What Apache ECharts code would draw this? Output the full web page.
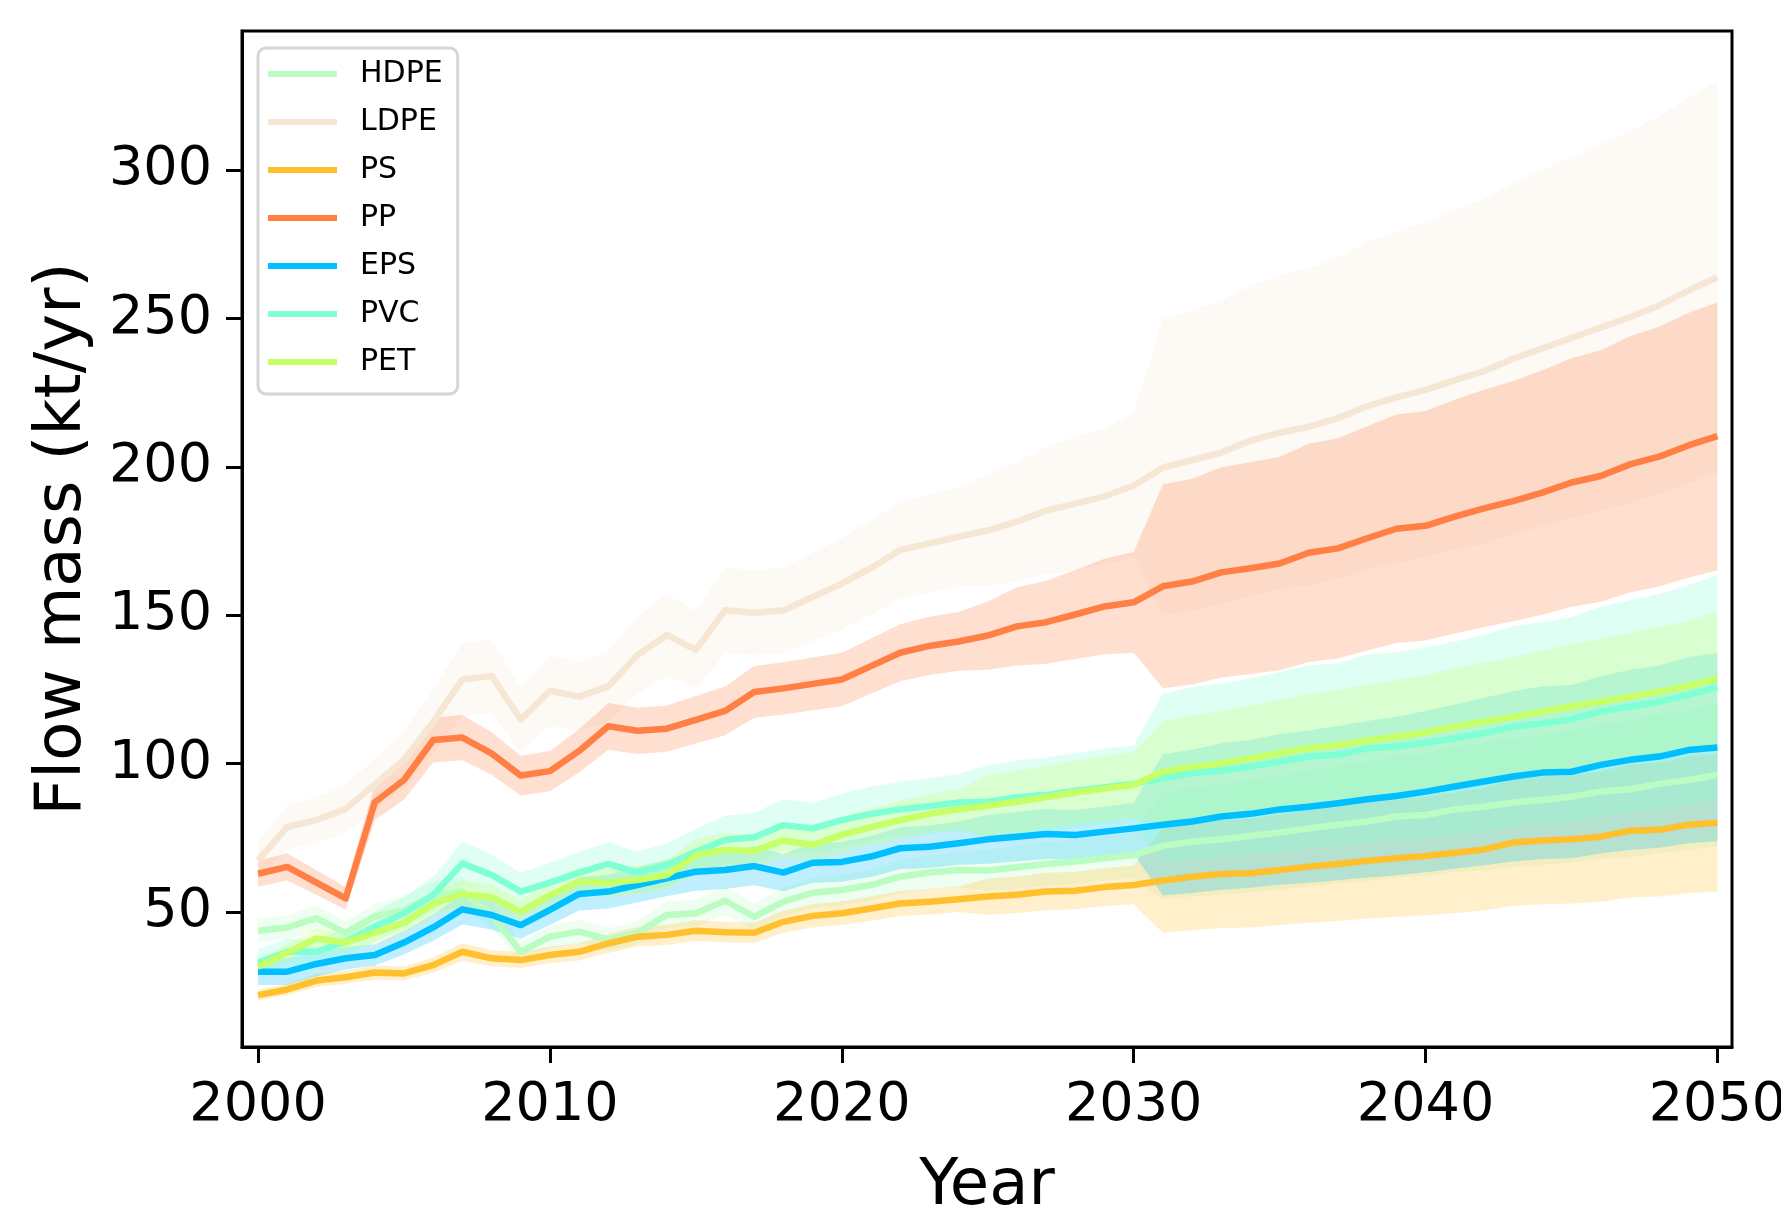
<!DOCTYPE html>
<html>
<head>
<meta charset="utf-8">
<script src="https://cdn.jsdelivr.net/npm/echarts@6/dist/echarts.min.js"></script>
<style>
  html, body { margin: 0; padding: 0; background: #ffffff; }
  #chart { width: 1781px; height: 1215px; }
</style>
</head>
<body>
<div id="chart"></div>
<script>
// Years of the flow projection
const YEARS = [2000, 2001, 2002, 2003, 2004, 2005, 2006, 2007, 2008, 2009,
  2010, 2011, 2012, 2013, 2014, 2015, 2016, 2017, 2018, 2019,
  2020, 2021, 2022, 2023, 2024, 2025, 2026, 2027, 2028, 2029,
  2030, 2031, 2032, 2033, 2034, 2035, 2036, 2037, 2038, 2039,
  2040, 2041, 2042, 2043, 2044, 2045, 2046, 2047, 2048, 2049, 2050];

const X_TICKS = [2000, 2010, 2020, 2030, 2040, 2050];
const Y_TICKS = [50, 100, 150, 200, 250, 300];

// Flow mass (kt/yr): mean with lower / upper uncertainty bounds
const HDPE_MEAN = [43.7, 44.8, 47.9, 43.0, 48.4, 50.7, 55.4, 56.9, 49.0, 36.6, 41.7, 43.4, 40.8, 43.0, 49.0, 49.6, 53.8, 48.4, 53.5, 56.5, 57.4, 59.1, 61.9, 63.3, 64.2, 64.0, 65.1, 66.2, 67.0, 68.1, 69.2, 72.3, 73.7, 74.5, 75.6, 76.8, 78.2, 79.4, 80.5, 82.2, 82.7, 84.6, 85.5, 86.9, 87.8, 88.9, 90.6, 91.4, 93.2, 94.5, 96.2];
const HDPE_LOW = [39.8, 40.8, 43.6, 39.1, 44.0, 46.1, 50.4, 51.8, 44.6, 33.3, 37.9, 39.5, 37.1, 39.1, 44.6, 45.1, 49.0, 44.0, 48.7, 51.4, 52.2, 53.8, 56.3, 57.6, 58.4, 57.0, 57.9, 58.9, 59.6, 60.6, 61.6, 54.2, 55.3, 55.9, 56.7, 57.6, 58.7, 59.6, 60.4, 61.7, 62.0, 63.5, 64.1, 65.2, 65.9, 66.7, 68.0, 68.6, 69.9, 70.9, 72.2];
const HDPE_HIGH = [47.6, 48.8, 52.2, 46.9, 52.8, 55.3, 60.4, 62.0, 53.4, 39.9, 45.5, 47.3, 44.5, 46.9, 53.4, 54.1, 58.6, 52.8, 58.3, 61.6, 62.6, 64.4, 67.5, 69.0, 70.0, 71.0, 72.3, 73.5, 74.4, 75.6, 76.8, 90.4, 92.1, 93.1, 94.5, 96.0, 97.8, 99.3, 100.6, 102.8, 103.4, 105.8, 106.9, 108.6, 109.8, 111.1, 113.3, 114.3, 116.5, 118.1, 120.3];

const LDPE_MEAN = [67.4, 78.7, 81.0, 84.7, 93.0, 101.3, 114.1, 128.4, 129.6, 114.8, 124.6, 122.6, 126.1, 136.6, 143.4, 138.4, 151.7, 150.9, 151.7, 156.2, 160.7, 166.0, 172.0, 174.3, 176.5, 178.6, 181.6, 185.3, 187.7, 190.1, 193.8, 199.8, 202.3, 204.9, 208.9, 211.6, 213.6, 216.5, 220.5, 223.5, 226.0, 229.3, 232.3, 236.5, 240.0, 243.5, 247.0, 250.5, 254.5, 259.5, 264.0];
const LDPE_LOW = [61.0, 71.2, 73.3, 76.7, 84.2, 91.7, 103.3, 116.2, 117.3, 103.9, 112.8, 111.0, 114.1, 123.6, 129.8, 125.3, 137.3, 136.6, 137.3, 141.4, 145.4, 150.2, 155.7, 157.7, 159.7, 159.8, 161.6, 164.0, 165.2, 167.3, 169.6, 149.9, 151.7, 153.7, 156.7, 158.7, 160.2, 162.4, 165.4, 167.6, 169.5, 172.0, 174.2, 177.4, 180.0, 182.6, 185.3, 187.9, 190.9, 194.6, 198.0];
const LDPE_HIGH = [73.8, 86.2, 88.7, 92.7, 101.8, 110.9, 124.9, 140.6, 141.9, 125.7, 136.4, 134.2, 138.1, 149.6, 157.0, 151.5, 166.1, 165.2, 166.1, 171.0, 176.0, 181.8, 188.3, 190.9, 193.3, 197.4, 201.6, 206.6, 210.2, 212.9, 218.0, 249.8, 252.9, 256.1, 261.1, 264.5, 267.0, 270.6, 275.6, 279.4, 282.5, 286.6, 290.4, 295.6, 300.0, 304.4, 308.8, 313.1, 318.1, 324.4, 330.0];

const PS_MEAN = [22.0, 23.9, 26.9, 28.0, 29.6, 29.3, 32.1, 36.6, 34.4, 33.8, 35.5, 36.6, 39.4, 41.7, 42.3, 43.7, 43.2, 43.0, 46.7, 48.7, 49.6, 51.2, 52.9, 53.5, 54.3, 55.2, 55.8, 56.9, 57.2, 58.4, 59.1, 60.6, 61.9, 62.8, 63.1, 64.2, 65.3, 66.2, 67.3, 68.1, 68.9, 70.0, 71.1, 73.4, 74.1, 74.5, 75.4, 77.4, 77.7, 79.4, 80.1];
const PS_LOW = [20.2, 22.0, 24.7, 25.8, 27.2, 27.0, 29.5, 33.7, 31.6, 31.1, 32.7, 33.7, 36.2, 38.4, 38.9, 40.2, 39.7, 39.6, 43.0, 44.8, 45.6, 47.1, 48.7, 49.2, 50.0, 49.1, 49.7, 50.6, 50.9, 52.0, 52.6, 43.0, 43.9, 44.6, 44.8, 45.6, 46.4, 47.0, 47.8, 48.4, 48.9, 49.7, 50.5, 52.1, 52.6, 52.9, 53.5, 55.0, 55.2, 56.4, 56.9];
const PS_HIGH = [23.8, 25.8, 29.1, 30.2, 32.0, 31.6, 34.7, 39.5, 37.2, 36.5, 38.3, 39.5, 42.6, 45.0, 45.7, 47.2, 46.7, 46.4, 50.4, 52.6, 53.6, 55.3, 57.1, 57.8, 58.6, 61.3, 61.9, 63.2, 63.5, 64.8, 65.6, 78.2, 79.9, 81.0, 81.4, 82.8, 84.2, 85.4, 86.8, 87.8, 88.9, 90.3, 91.7, 94.7, 95.6, 96.1, 97.3, 99.8, 100.2, 102.4, 103.3];

const PP_MEAN = [62.9, 65.2, 59.9, 54.6, 87.0, 94.5, 108.0, 108.8, 103.5, 96.0, 97.5, 104.3, 112.6, 111.1, 111.8, 114.8, 117.8, 124.2, 125.4, 126.9, 128.4, 132.9, 137.4, 139.7, 141.2, 143.2, 146.3, 147.7, 150.3, 153.0, 154.4, 159.8, 161.4, 164.5, 165.9, 167.5, 171.1, 172.6, 176.0, 179.2, 180.2, 183.3, 186.1, 188.5, 191.4, 194.8, 197.0, 200.9, 203.5, 207.3, 210.4];
const PP_LOW = [58.5, 60.6, 55.7, 50.8, 80.9, 87.9, 100.4, 101.2, 96.3, 89.3, 90.7, 97.0, 104.7, 103.3, 104.0, 106.8, 109.6, 115.5, 116.6, 118.0, 119.4, 123.6, 127.8, 129.9, 131.3, 131.7, 133.1, 133.7, 135.3, 136.9, 137.4, 125.4, 126.7, 129.1, 130.2, 131.5, 134.3, 135.5, 138.2, 140.7, 141.5, 143.9, 146.1, 148.0, 150.2, 152.9, 154.6, 157.7, 159.7, 162.7, 165.2];
const PP_HIGH = [67.3, 69.8, 64.1, 58.4, 93.1, 101.1, 115.6, 116.4, 110.7, 102.7, 104.3, 111.6, 120.5, 118.9, 119.6, 122.8, 126.0, 132.9, 134.2, 135.8, 137.4, 142.2, 147.0, 149.5, 151.1, 154.7, 159.5, 161.7, 165.3, 169.1, 171.4, 194.2, 196.1, 199.9, 201.6, 203.5, 207.9, 209.7, 213.8, 217.7, 218.9, 222.7, 226.1, 229.0, 232.6, 236.7, 239.4, 244.1, 247.3, 251.9, 255.6];

const EPS_MEAN = [29.9, 29.9, 32.5, 34.4, 35.5, 39.7, 44.8, 50.9, 49.0, 45.6, 50.7, 56.1, 56.9, 59.1, 61.4, 63.6, 64.2, 65.5, 63.3, 66.6, 66.9, 68.7, 71.5, 72.0, 73.2, 74.5, 75.4, 76.3, 76.0, 77.1, 78.2, 79.4, 80.5, 82.2, 83.1, 84.6, 85.5, 86.7, 88.0, 89.1, 90.6, 92.3, 94.0, 95.7, 97.0, 97.3, 99.6, 101.3, 102.4, 104.6, 105.5];
const EPS_LOW = [25.4, 25.4, 28.3, 30.6, 32.0, 35.7, 40.3, 45.8, 44.1, 41.0, 45.6, 50.5, 51.2, 53.2, 55.3, 57.2, 57.8, 59.0, 57.0, 59.9, 60.2, 61.8, 64.4, 64.8, 65.9, 66.3, 67.1, 67.9, 67.6, 68.6, 69.6, 55.6, 56.4, 57.5, 58.2, 59.2, 59.9, 60.7, 61.6, 62.4, 63.4, 64.6, 65.8, 67.0, 67.9, 68.1, 69.7, 70.9, 71.7, 73.2, 73.9];
const EPS_HIGH = [34.4, 34.4, 36.7, 38.2, 39.1, 43.7, 49.3, 56.0, 53.9, 50.2, 55.8, 61.7, 62.6, 65.0, 67.5, 70.0, 70.6, 72.0, 69.6, 73.3, 73.6, 75.6, 78.6, 79.2, 80.5, 82.7, 83.7, 84.7, 84.4, 85.6, 86.8, 103.2, 104.7, 106.9, 108.0, 110.0, 111.2, 112.7, 114.4, 115.8, 117.8, 120.0, 122.2, 124.4, 126.1, 126.5, 129.5, 131.7, 133.1, 136.0, 137.2];

const PVC_MEAN = [32.9, 36.6, 36.6, 40.0, 45.1, 49.6, 55.7, 66.4, 62.5, 56.9, 59.9, 63.3, 66.2, 63.3, 65.9, 70.3, 74.3, 75.2, 79.3, 78.2, 81.0, 83.1, 84.6, 85.7, 86.9, 87.2, 88.7, 89.5, 90.9, 92.1, 93.2, 95.1, 96.8, 97.7, 99.0, 100.7, 102.4, 103.0, 105.2, 105.8, 107.1, 108.6, 110.3, 112.5, 113.6, 115.0, 117.6, 119.3, 120.9, 123.2, 125.8];
const PVC_LOW = [28.3, 32.2, 32.6, 35.6, 40.1, 44.1, 49.6, 59.1, 55.6, 50.6, 53.3, 56.3, 58.9, 56.3, 58.7, 62.6, 66.1, 66.9, 70.6, 69.6, 72.1, 74.0, 75.3, 76.3, 77.3, 75.0, 76.3, 77.0, 78.2, 79.2, 80.2, 66.6, 67.8, 68.4, 69.3, 70.5, 71.7, 72.1, 73.6, 74.1, 75.0, 76.0, 77.2, 78.8, 79.5, 80.5, 82.3, 83.5, 84.6, 86.2, 88.1];
const PVC_HIGH = [37.5, 41.0, 40.6, 44.4, 50.1, 55.1, 61.8, 73.7, 69.4, 63.2, 66.5, 70.3, 73.5, 70.3, 73.1, 78.0, 82.5, 83.5, 88.0, 86.8, 89.9, 92.2, 93.9, 95.1, 96.5, 99.4, 101.1, 102.0, 103.6, 105.0, 106.2, 123.6, 125.8, 127.0, 128.7, 130.9, 133.1, 133.9, 136.8, 137.5, 139.2, 141.2, 143.4, 146.3, 147.7, 149.5, 152.9, 155.1, 157.2, 160.2, 163.5];

const PET_MEAN = [31.6, 36.3, 41.1, 39.7, 43.0, 46.4, 52.7, 56.1, 55.0, 50.1, 55.7, 60.2, 59.9, 60.8, 62.5, 69.2, 70.9, 70.6, 74.1, 72.6, 76.0, 78.6, 81.0, 83.1, 84.6, 85.8, 87.2, 88.7, 90.3, 91.6, 92.8, 97.3, 99.0, 100.1, 101.8, 103.5, 105.2, 106.3, 107.8, 109.1, 110.5, 112.5, 114.2, 115.7, 117.6, 119.3, 120.9, 122.6, 124.3, 126.2, 128.8];
const PET_LOW = [29.1, 33.4, 37.8, 36.5, 39.6, 42.7, 48.5, 51.6, 50.6, 46.1, 51.2, 55.4, 55.1, 55.9, 57.5, 63.7, 65.2, 65.0, 68.2, 66.8, 69.9, 72.3, 74.5, 76.5, 77.8, 75.5, 76.7, 78.1, 79.5, 80.6, 81.7, 80.3, 81.7, 82.6, 84.0, 85.4, 86.8, 87.7, 88.9, 90.0, 91.2, 92.8, 94.2, 95.5, 97.0, 98.4, 99.7, 101.1, 102.5, 104.1, 106.3];
const PET_HIGH = [34.1, 39.2, 44.4, 42.9, 46.4, 50.1, 56.9, 60.6, 59.4, 54.1, 60.2, 65.0, 64.7, 65.7, 67.5, 74.7, 76.6, 76.2, 80.0, 78.4, 82.1, 84.9, 87.5, 89.7, 91.4, 96.1, 97.7, 99.3, 101.1, 102.6, 103.9, 114.3, 116.3, 117.6, 119.6, 121.6, 123.6, 124.9, 126.7, 128.2, 129.8, 132.2, 134.2, 135.9, 138.2, 140.2, 142.1, 144.1, 146.1, 148.3, 151.3];

// Polymer types, in drawing / legend order
const PLASTICS = [
  { name: 'HDPE', color: '#bbfcc2', mean: HDPE_MEAN, low: HDPE_LOW, high: HDPE_HIGH },
  { name: 'LDPE', color: '#f6e7d4', mean: LDPE_MEAN, low: LDPE_LOW, high: LDPE_HIGH },
  { name: 'PS',   color: '#ffc02e', mean: PS_MEAN,   low: PS_LOW,   high: PS_HIGH },
  { name: 'PP',   color: '#ff7f45', mean: PP_MEAN,   low: PP_LOW,   high: PP_HIGH },
  { name: 'EPS',  color: '#00bfff', mean: EPS_MEAN,  low: EPS_LOW,  high: EPS_HIGH },
  { name: 'PVC',  color: '#7fffd4', mean: PVC_MEAN,  low: PVC_LOW,  high: PVC_HIGH },
  { name: 'PET',  color: '#c6ff66', mean: PET_MEAN,  low: PET_LOW,  high: PET_HIGH }
];

const FONT = 'DejaVu Sans';
const BAND_ALPHA = 0.25;

function withAlpha(hex, a) {
  const n = parseInt(hex.slice(1), 16);
  return 'rgba(' + ((n >> 16) & 255) + ',' + ((n >> 8) & 255) + ',' + (n & 255) + ',' + a + ')';
}

const series = [];

// Uncertainty bands: one filled polygon per polymer, upper bound forward then lower bound back
PLASTICS.forEach(p => {
  const rows = YEARS.map((y, i) => [y, p.low[i], p.high[i]]);
  series.push({
    type: 'custom', z: 1, silent: true, clip: true,
    encode: { x: 0, y: [1, 2] },
    data: rows,
    renderItem: function (params, api) {
      if (params.dataIndexInside !== 0) return null;
      const upper = rows.map(r => api.coord([r[0], r[2]]));
      const lower = rows.map(r => api.coord([r[0], r[1]])).reverse();
      return {
        type: 'polygon',
        shape: { points: upper.concat(lower) },
        style: { fill: withAlpha(p.color, BAND_ALPHA), stroke: null }
      };
    }
  });
});

// Mean lines drawn above every band
PLASTICS.forEach(p => {
  series.push({
    name: p.name, type: 'line', z: 2, symbol: 'none', silent: true,
    color: p.color,
    itemStyle: { color: p.color },
    lineStyle: { width: 6.5, color: p.color, join: 'round', cap: 'butt' },
    data: YEARS.map((y, i) => [y, p.mean[i]])
  });
});

const chart = echarts.init(document.getElementById('chart'), null, { renderer: 'canvas' });

chart.setOption({
  animation: false,
  backgroundColor: '#ffffff',
  grid: {
    left: 242, right: 49, top: 31, bottom: 168,
    outerBoundsMode: 'none', containLabel: false,
    show: true, borderColor: '#000000', borderWidth: 3, backgroundColor: 'transparent'
  },
  legend: {
    data: PLASTICS.map(p => p.name),
    orient: 'vertical',
    left: 258, top: 48,
    icon: 'rect',
    itemWidth: 69, itemHeight: 6, itemGap: 18,
    padding: [11, 15, 17, 10],
    backgroundColor: 'rgba(255,255,255,0.8)',
    borderColor: '#d6d6d6', borderWidth: 3, borderRadius: 8,
    selectedMode: false,
    textStyle: { fontFamily: FONT, fontSize: 30, color: '#000000', lineHeight: 30, padding: [0, 0, 0, 18] }
  },
  xAxis: {
    type: 'value', min: 1999.45, max: 2050.5,
    name: 'Year', nameLocation: 'middle', nameGap: 108,
    nameTextStyle: { fontFamily: FONT, fontSize: 64, color: '#000000' },
    axisLine: { show: true, onZero: false, lineStyle: { color: '#000000', width: 3 } },
    axisTick: { show: true, length: 16, customValues: X_TICKS, lineStyle: { color: '#000000', width: 3 } },
    axisLabel: {
      customValues: X_TICKS, fontFamily: FONT, fontSize: 54, color: '#000000', margin: 32,
      formatter: v => String(v)
    },
    splitLine: { show: false }
  },
  yAxis: {
    type: 'value', min: 4.5, max: 347,
    name: 'Flow mass (kt/yr)', nameLocation: 'middle', nameGap: 147,
    nameTextStyle: { fontFamily: FONT, fontSize: 64, color: '#000000' },
    axisLine: { show: true, onZero: false, lineStyle: { color: '#000000', width: 3 } },
    axisTick: { show: true, length: 16, customValues: Y_TICKS, lineStyle: { color: '#000000', width: 3 } },
    axisLabel: {
      customValues: Y_TICKS, fontFamily: FONT, fontSize: 54, color: '#000000', margin: 30,
      formatter: v => String(v)
    },
    splitLine: { show: false }
  },
  series: series
});
</script>
</body>
</html>
